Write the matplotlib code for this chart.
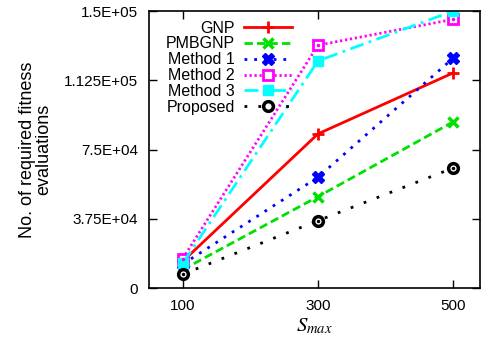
import matplotlib
matplotlib.use("Agg")
import matplotlib.pyplot as plt
from matplotlib.ticker import FixedLocator, FixedFormatter

plt.rcParams['font.family'] = ['Liberation Sans', 'DejaVu Sans']
plt.rcParams['mathtext.fontset'] = 'stix'

s_max = [100, 300, 500]
gnp = [14500, 83500, 116500]
pmbgnp = [10000, 49500, 90000]
method1 = [13000, 60000, 124500]
method2 = [16000, 131500, 145500]
method3 = [13500, 123000, 150000]
proposed = [7500, 36500, 65000]

yticks = [0, 37500, 75000, 112500, 150000]
ytick_labels = ["0", "3.75E+04", "7.5E+04", "1.125E+05", "1.5E+05"]

fig = plt.figure(figsize=(4.87, 3.45), dpi=100)
ax = fig.add_axes([0.306, 0.165, 0.680, 0.803])

ax.plot(s_max, gnp, color='red', lw=2, marker='+', ms=8, mew=2, label='GNP')
ax.plot(s_max, pmbgnp, color='#00e000', lw=2, ls=(0, (3, 1.5)), marker='x', ms=6.5, mew=2.5, label='PMBGNP')
ax.plot(s_max, method1, color='blue', lw=2, ls=(0, (1, 2.5)), marker='X', ms=8, mew=1, label='Method 1')
ax.plot(s_max, method2, color='magenta', lw=2, ls=(0, (0.8, 1)), marker='s', ms=7, mew=2,
        mfc='white', label='Method 2')
ax.plot(s_max, method3, color='cyan', lw=2, ls=(0, (5, 2, 1, 2)), marker='s', ms=7, label='Method 3')
ax.plot(s_max, proposed, color='black', lw=2, ls=(0, (1, 4)), marker='o', ms=7, mew=2.5,
        mfc='white', label='Proposed')
# small dot at the centre of the open markers
ax.plot(s_max, method2, ls='none', marker='.', ms=3, color='magenta')
ax.plot(s_max, proposed, ls='none', marker='.', ms=3, color='black')

ax.set_xlim(50, 540)
ax.set_ylim(0, 150000)
ax.set_xticks(s_max)
ax.yaxis.set_major_locator(FixedLocator(yticks))
ax.yaxis.set_major_formatter(FixedFormatter(ytick_labels))
ax.tick_params(direction='in', length=6, width=1, top=True, right=True, labelsize=11, pad=8)
for sp in ax.spines.values():
    sp.set_linewidth(1.2)

ax.set_xlabel(r'$S_{max}$', fontsize=15, labelpad=2)
ax.set_ylabel('No. of required fitness\nevaluations', fontsize=13, linespacing=0.95, labelpad=8)

ax.legend(loc='upper right', bbox_to_anchor=(0.600, 0.94), bbox_transform=fig.transFigure,
          frameon=False, markerfirst=False, fontsize=11.5, handlelength=3, labelspacing=0.05,
          borderaxespad=0, borderpad=0, handletextpad=0.6)

fig.savefig("out.png", dpi=100)
